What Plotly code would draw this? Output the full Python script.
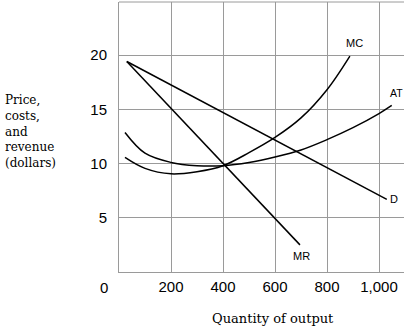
import plotly.graph_objects as go

# Demand and marginal revenue (straight lines)
q_demand = [30, 1030]
p_demand = [19.4, 6.7]
q_mr = [30, 696]
p_mr = [19.4, 2.5]

# Marginal cost curve
q_mc = [23, 100, 200, 300, 400, 500, 600, 700, 800, 888]
p_mc = [10.56, 9.55, 9.05, 9.25, 9.8, 11.0, 12.4, 14.2, 16.8, 19.9]

# Average total cost curve
q_atc = [23, 100, 200, 300, 400, 500, 600, 700, 800, 900, 1000, 1049]
p_atc = [12.86, 10.95, 10.1, 9.8, 9.8, 10.1, 10.6, 11.25, 12.2, 13.3, 14.6, 15.35]

x_ticks = [200, 400, 600, 800, 1000]
x_tick_text = ["200", "400", "600", "800", "1,000"]
y_ticks = [5, 10, 15, 20]
y_title_lines = ["Price,", "costs,", "and", "revenue", "(dollars)"]

W, H = 404, 328
L, R, T, B = 119, 0, 2, 56
pw, ph = W - L - R, H - T - B

def px_x(px):
    return (px - L) / pw

def px_y(py):
    return (H - B - py) / ph

line_style = dict(color="black", width=1.5)
fig = go.Figure()
fig.add_trace(go.Scatter(x=q_demand, y=p_demand, mode="lines", line=line_style))
fig.add_trace(go.Scatter(x=q_mr, y=p_mr, mode="lines", line=line_style))
fig.add_trace(go.Scatter(x=q_mc, y=p_mc, mode="lines",
                         line=dict(color="black", width=1.5, shape="spline", smoothing=1.0)))
fig.add_trace(go.Scatter(x=q_atc, y=p_atc, mode="lines",
                         line=dict(color="black", width=1.5, shape="spline", smoothing=1.0)))

label_font = dict(family="Liberation Sans, Arial", size=11, color="black")
curve_labels = [
    ("MC", 904, 21.1, "center"),
    ("MR", 703, 1.5, "center"),
    ("D", 1035, 6.7, "left"),
]
annotations = []
for text, x, y, anchor in curve_labels:
    annotations.append(dict(x=x, y=y, xref="x", yref="y", text=text, showarrow=False,
                            xanchor=anchor, yanchor="middle", font=label_font))
annotations.append(dict(x=1, y=16.5, xref="paper", yref="y", text="AT", showarrow=False,
                        xanchor="right", yanchor="middle", borderpad=0,
                        font=dict(family="Liberation Sans, Arial", size=10.5, color="black")))

tick_font = dict(family="Liberation Sans, Arial", size=15, color="black")
serif = dict(family="DejaVu Serif", size=12, color="black")
for i, line in enumerate(y_title_lines):
    annotations.append(dict(x=px_x(3), y=px_y(100 + i * 15.8), xref="paper", yref="paper",
                            text=line, showarrow=False, xanchor="left", yanchor="middle",
                            font=serif))
annotations.append(dict(x=px_x(273), y=px_y(328), xref="paper", yref="paper",
                        text="Quantity of output", showarrow=False, xanchor="center",
                        yanchor="bottom", font=dict(family="DejaVu Serif", size=13, color="black")))
annotations.append(dict(x=px_x(103.5), y=px_y(287), xref="paper", yref="paper",
                        text="0", showarrow=False, xanchor="center", yanchor="middle",
                        font=tick_font))

grid = "#9a9a9a"
fig.update_layout(
    width=W, height=H,
    margin=dict(l=L, r=R, t=T, b=B),
    plot_bgcolor="white", paper_bgcolor="white",
    showlegend=False,
    annotations=annotations,
    shapes=[dict(type="line", xref="paper", yref="paper", x0=0, x1=1, y0=1, y1=1,
                 line=dict(color=grid, width=1))],
    xaxis=dict(range=[0, (W - L) * 200 / 52], tickvals=x_ticks, ticktext=x_tick_text,
               showgrid=True, gridcolor=grid, gridwidth=1, zeroline=False,
               showline=True, linecolor=grid, linewidth=1, ticks="",
               ticklabelstandoff=1, tickfont=tick_font),
    yaxis=dict(range=[0, (H - B - T) / 10.85], tickvals=y_ticks,
               showgrid=True, gridcolor=grid, gridwidth=1, zeroline=False,
               showline=True, linecolor=grid, linewidth=1, ticks="",
               ticklabelstandoff=8, tickfont=tick_font),
)

fig.write_html("out.html")
